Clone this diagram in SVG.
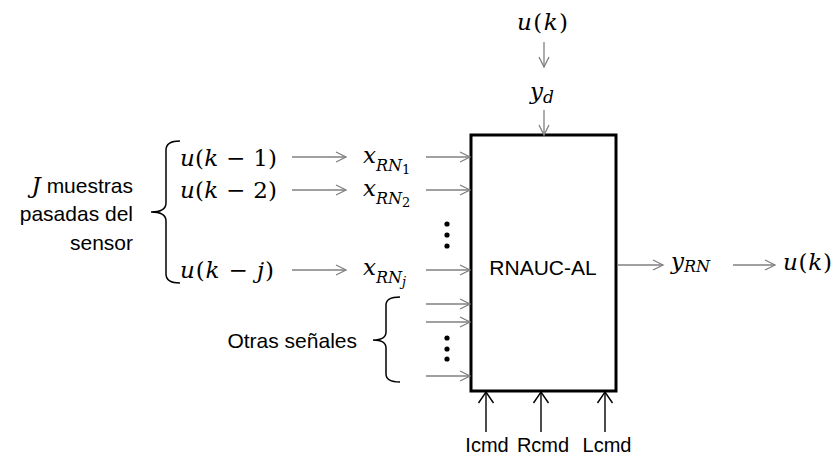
<svg xmlns="http://www.w3.org/2000/svg" width="839" height="457" viewBox="0 0 839 457">
<style>
.m{font-family:"DejaVu Serif","Liberation Serif",serif;font-size:23px;fill:#000}
.i{font-style:italic}
.s{font-family:"Liberation Sans",Arial,sans-serif;font-size:21px;fill:#000}
.c{font-family:"Liberation Sans",Arial,sans-serif;font-size:20px;fill:#000}
.ar{stroke:#808080;stroke-width:1.3;fill:none;marker-end:url(#ah)}
.ab{stroke:#000;stroke-width:1.4;fill:none;marker-end:url(#ahb)}
.br{stroke:#000;stroke-width:1.5;fill:none}
</style>
<defs>
<marker id="ah" markerUnits="userSpaceOnUse" markerWidth="12" markerHeight="12" refX="10" refY="5" orient="auto" overflow="visible">
<path d="M0,0 L10,5 L0,10" fill="none" stroke="#808080" stroke-width="1.3"/>
</marker>
<marker id="ahb" markerUnits="userSpaceOnUse" markerWidth="14" markerHeight="16" refX="11" refY="7.5" orient="auto" overflow="visible">
<path d="M0,0 L11,7.5 L0,15" fill="none" stroke="#000" stroke-width="1.4"/>
</marker>
</defs>
<rect width="839" height="457" fill="#fff"/>

<g id="block">
<rect x="471" y="135" width="145" height="256" fill="#fff" stroke="#000" stroke-width="3"/>
<text class="s" x="543" y="275" text-anchor="middle">RNAUC-AL</text>
</g>

<g id="top-labels">
<text class="m" x="517" y="30" textLength="51"><tspan class="i">u</tspan>(<tspan class="i">k</tspan>)</text>
<text class="m" x="530" y="99"><tspan class="i">y</tspan><tspan class="i" font-size="17" dy="4">d</tspan></text>
</g>

<g id="sensor-group">
<text class="s" x="133" y="193" text-anchor="end"><tspan class="m i" font-size="24">J</tspan> muestras</text>
<text class="s" x="133" y="221" text-anchor="end">pasadas del</text>
<text class="s" x="133" y="250" text-anchor="end">sensor</text>
<path class="br" d="M180,141 Q166,141 166,150 L166,203 Q166,212 151,212 Q166,212 166,221 L166,274 Q166,283 180,283"/>
<text class="m" x="180" y="166" textLength="97"><tspan class="i">u</tspan>(<tspan class="i">k</tspan> − 1)</text>
<text class="m" x="180" y="198" textLength="97"><tspan class="i">u</tspan>(<tspan class="i">k</tspan> − 2)</text>
<text class="m" x="180" y="278" textLength="94"><tspan class="i">u</tspan>(<tspan class="i">k</tspan> − <tspan class="i">j</tspan>)</text>
</g>

<g id="x-labels">
<text class="m" x="363" y="163"><tspan class="i">x</tspan><tspan class="i" font-size="16" dy="8">RN</tspan><tspan font-size="13" dy="3">1</tspan></text>
<text class="m" x="363" y="196"><tspan class="i">x</tspan><tspan class="i" font-size="16" dy="8">RN</tspan><tspan font-size="13" dy="3">2</tspan></text>
<text class="m" x="363" y="275"><tspan class="i">x</tspan><tspan class="i" font-size="16" dy="8">RN</tspan><tspan class="i" font-size="13" dy="3">j</tspan></text>
</g>

<g id="dots">
<circle cx="447" cy="224" r="2.6"/><circle cx="447" cy="235" r="2.6"/><circle cx="447" cy="246" r="2.6"/>
<circle cx="447" cy="338" r="2.6"/><circle cx="447" cy="349" r="2.6"/><circle cx="447" cy="359" r="2.6"/>
</g>

<g id="other-signals">
<text class="s" x="357" y="348" font-size="20" text-anchor="end">Otras señales</text>
<path class="br" d="M400,297 Q386,297 386,305 L386,332 Q386,340 373,340 Q386,340 386,348 L386,374 Q386,382 400,382"/>
</g>

<g id="output">
<text class="m" x="671" y="269"><tspan class="i">y</tspan><tspan class="i" font-size="16" dy="3">RN</tspan></text>
<text class="m" x="783" y="270" textLength="49"><tspan class="i">u</tspan>(<tspan class="i">k</tspan>)</text>
</g>

<g id="cmd-labels">
<text class="c" x="487" y="452" text-anchor="middle">Icmd</text>
<text class="c" x="543" y="452" text-anchor="middle">Rcmd</text>
<text class="c" x="607" y="452" text-anchor="middle">Lcmd</text>
</g>

<g id="connectors">
<line class="ar" x1="544" y1="42" x2="544" y2="67"/>
<line class="ar" x1="544" y1="110" x2="544" y2="135"/>
<line class="ar" x1="292" y1="157" x2="346" y2="157"/>
<line class="ar" x1="292" y1="190" x2="346" y2="190"/>
<line class="ar" x1="292" y1="270" x2="346" y2="270"/>
<line class="ar" x1="426" y1="157" x2="470" y2="157"/>
<line class="ar" x1="426" y1="190" x2="470" y2="190"/>
<line class="ar" x1="426" y1="270" x2="470" y2="270"/>
<line class="ar" x1="426" y1="304" x2="470" y2="304"/>
<line class="ar" x1="426" y1="322" x2="470" y2="322"/>
<line class="ar" x1="426" y1="376" x2="470" y2="376"/>
<line class="ar" x1="617" y1="265" x2="663" y2="265"/>
<line class="ar" x1="733" y1="265" x2="775" y2="265"/>
<line class="ab" x1="486" y1="432" x2="486" y2="392"/>
<line class="ab" x1="541" y1="432" x2="541" y2="392"/>
<line class="ab" x1="605" y1="432" x2="605" y2="392"/>
</g>
</svg>
